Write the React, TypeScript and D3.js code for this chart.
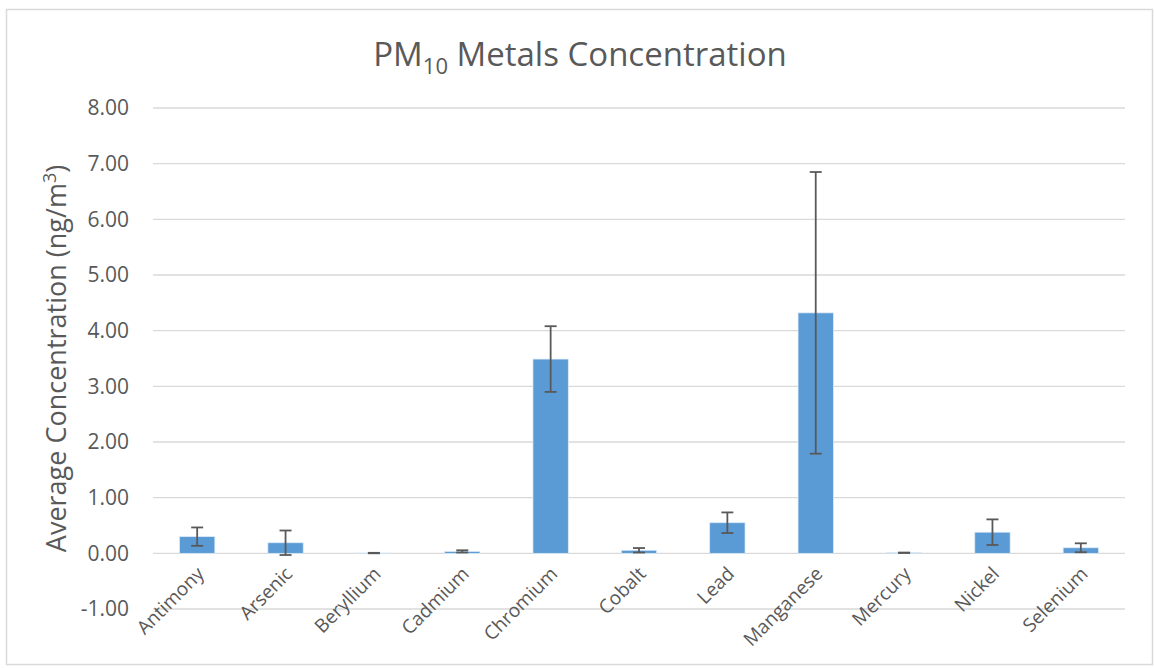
import React from "react";
import * as d3 from "d3";

const categories = ["Antimony", "Arsenic", "Beryllium", "Cadmium", "Chromium", "Cobalt", "Lead", "Manganese", "Mercury", "Nickel", "Selenium"];
const values = [0.30, 0.19, 0.005, 0.035, 3.49, 0.055, 0.55, 4.32, 0.01, 0.38, 0.10];
const errors = [0.165, 0.22, 0.004, 0.02, 0.59, 0.04, 0.185, 2.53, 0.004, 0.23, 0.08];
const yTicks = [-1, 0, 1, 2, 3, 4, 5, 6, 7, 8];

const W = 1154;
const H = 668;
const M = { left: 153, right: 1125, top: 108, bottom: 609 };
const FONT = "'Open Sans', 'Liberation Sans', sans-serif";
const TEXT = "#595959";
const fmt = d3.formatLocale({ decimal: ".", thousands: ",", grouping: [3], currency: ["", ""], minus: "-" }).format(".2f");

export default function App() {
  const x = d3.scaleBand<string>().domain(categories).range([M.left, M.right]).paddingInner(0.6).paddingOuter(0.3);
  const y = d3.scaleLinear().domain([-1, 8]).range([M.bottom, M.top]);
  const bw = x.bandwidth();
  const cap = 6;

  return (
    <svg width={W} height={H} style={{ position: "absolute", left: 0, top: 0 }} fontFamily={FONT}>
      <rect x={0} y={0} width={W} height={H} fill="#fff" />
      <rect x={6.5} y={9.5} width={1146} height={655} fill="#fff" stroke="#d9d9d9" strokeWidth={1.5} />
      <text x={580} y={66} textAnchor="middle" fontSize={33} fill={TEXT}>
        PM<tspan fontSize={22} dy={8}>10</tspan><tspan dy={-8}> Metals Concentration</tspan>
      </text>
      {yTicks.map((t) => (
        <g key={t}>
          <line x1={M.left} x2={M.right} y1={y(t)} y2={y(t)} stroke="#d9d9d9" strokeWidth={1.3} />
          <text x={129} y={y(t)} dy="0.35em" textAnchor="end" fontSize={21} fill={TEXT}>
            {fmt(t)}
          </text>
        </g>
      ))}
      <text transform={`translate(66, ${(M.top + M.bottom) / 2}) rotate(-90)`} textAnchor="middle" fontSize={27} fill={TEXT}>
        Average Concentration (ng/m<tspan fontSize={18} dy={-10}>3</tspan><tspan dy={10}>)</tspan>
      </text>
      {categories.map((c, i) => {
        const cx = (x(c) as number) + bw / 2;
        const v = values[i];
        const e = errors[i];
        return (
          <g key={c}>
            <rect x={x(c)} y={y(Math.max(0, v))} width={bw} height={Math.abs(y(v) - y(0))} fill="#5b9bd5" stroke="#deebf7" strokeWidth={0.75} />
            <line x1={cx} x2={cx} y1={y(v + e)} y2={y(v - e)} stroke={TEXT} strokeWidth={1.8} />
            <line x1={cx - cap} x2={cx + cap} y1={y(v + e)} y2={y(v + e)} stroke={TEXT} strokeWidth={1.8} />
            <line x1={cx - cap} x2={cx + cap} y1={y(v - e)} y2={y(v - e)} stroke={TEXT} strokeWidth={1.8} />
            <text transform={`translate(${cx + 8}, ${575}) rotate(-45)`} textAnchor="end" fontSize={19} fill={TEXT}>
              {c}
            </text>
          </g>
        );
      })}
    </svg>
  );
}
